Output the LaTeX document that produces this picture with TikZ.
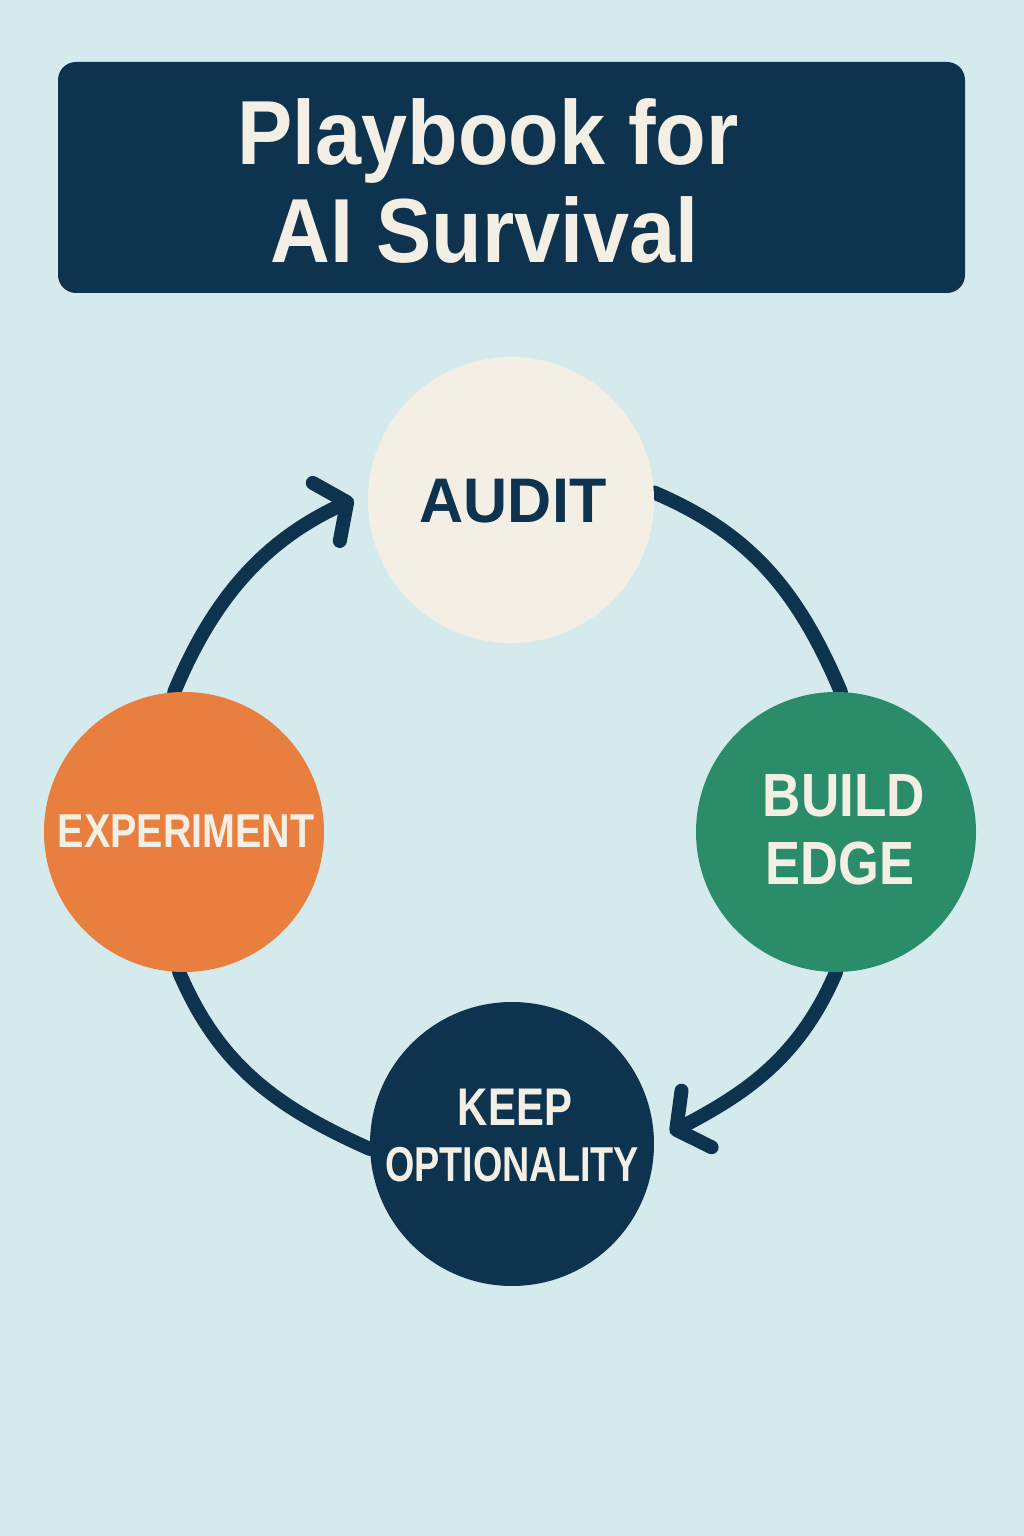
\documentclass[tikz,border=0pt]{standalone}
\usepackage{fontspec}
\setmainfont{Liberation Sans}
\usetikzlibrary{arrows.meta,backgrounds}
\definecolor{bgblue}{HTML}{D5EAEC}
\definecolor{navy}{HTML}{0D334F}
\definecolor{cream}{HTML}{F4EFE4}
\definecolor{cgreen}{HTML}{2A8C68}
\definecolor{corange}{HTML}{E97F3E}
\newcommand\nsq[2]{\scalebox{#1}[1]{#2}}
\begin{document}
\begin{tikzpicture}[x=1pt,y=1pt,
  disc/.style={circle, minimum size=#1, inner sep=0pt},
  ring/.style={draw=navy, line width=14pt, line cap=round},
  tipped/.style={-{Straight Barb[length=23pt,width=64pt,round]}},
  lbl/.style={anchor=base, inner sep=0pt}]
\useasboundingbox (0,0) rectangle (1024,1536);
\begin{scope}[on background layer]
\fill[bgblue] (0,0) rectangle (1024,1536);
\end{scope}

% title
\node[fill=navy, rounded corners=18pt, minimum width=907pt, minimum height=231pt, inner sep=0pt] (titlebox) at (511.5,1358.5) {};
\node[lbl, text=cream, font=\bfseries\fontsize{91}{100}\selectfont] (t1) at (488,1371) {\nsq{0.91}{Playbook for}};
\node[lbl, text=cream, font=\bfseries\fontsize{91}{100}\selectfont] (t2) at (485,1273) {\nsq{0.91}{AI Survival}};

% circles
\node[disc=286pt, fill=cream] (audit) at (511,1036) {};
\node[disc=280pt, fill=cgreen] (build) at (836,704) {};
\node[disc=280pt, fill=corange] (exper) at (184,704) {};
\node[disc=284pt, fill=navy] (keep) at (512,392) {};

% labels
\node[lbl, text=navy, font=\bfseries\fontsize{63}{70}\selectfont] (la) at (513,1013) {\nsq{0.97}{AUDIT}};
\node[lbl, text=cream, font=\bfseries\fontsize{61}{70}\selectfont] (lb1) at (844,719) {\nsq{0.87}{BUILD}};
\node[lbl, text=cream, font=\bfseries\fontsize{61}{70}\selectfont] (lb2) at (840,651) {\nsq{0.86}{EDGE}};
\node[lbl, text=cream, font=\bfseries\fontsize{47.5}{55}\selectfont] (le) at (186,688) {\nsq{0.83}{EXPERIMENT}};
\node[lbl, text=cream, font=\bfseries\fontsize{53}{60}\selectfont] (lk1) at (515,410) {\nsq{0.79}{KEEP}};
\node[lbl, text=cream, font=\bfseries\fontsize{49}{55}\selectfont] (lk2) at (512,354) {\nsq{0.77}{OPTIONALITY}};

% cycle connectors
\begin{scope}[on background layer]
\draw[ring] (audit.3) to[out=-23,in=113] (build.88);
\draw[ring,tipped,shorten >=18pt] (build.-90) to[out=-113,in=28] (keep.1);
\draw[ring] (keep.182) to[out=156,in=-67] (exper.268);
\draw[ring,tipped,shorten >=16pt] (exper.94) to[out=67.5,in=205] (audit.177);
\end{scope}
\end{tikzpicture}
\end{document}
